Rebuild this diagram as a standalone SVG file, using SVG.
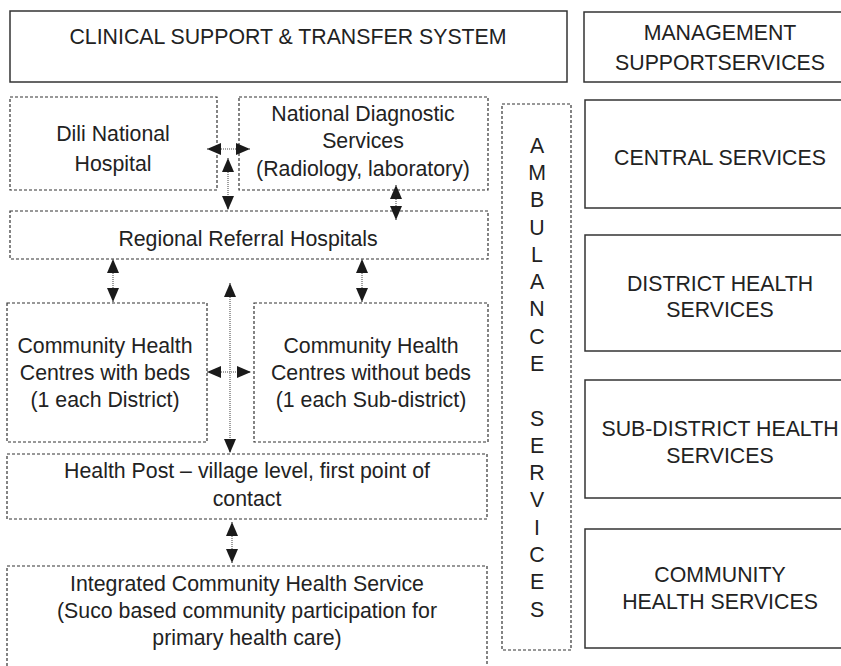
<svg xmlns="http://www.w3.org/2000/svg" width="841" height="666" viewBox="0 0 841 666">
<defs>
<style>
text{font-family:"Liberation Sans",Arial,sans-serif;font-size:21.3px;fill:#222;text-anchor:middle}
.solid{fill:#fff;stroke:#333;stroke-width:1.5}
.dash{fill:none;stroke:#333;stroke-width:1.2;stroke-dasharray:3 2}
.link{stroke:#888;stroke-width:1.6;stroke-dasharray:1 1;fill:none;marker-start:url(#ah);marker-end:url(#ah)}
</style>
<marker id="ah" viewBox="0 0 14 12" refX="14" refY="6" markerWidth="14" markerHeight="12" markerUnits="userSpaceOnUse" orient="auto-start-reverse"><path d="M0,0 L14,6 L0,12 z" fill="#1a1a1a"/></marker>
</defs>
<rect width="841" height="666" fill="#fff"/>
<g id="clinical"><rect class="solid" x="10" y="11" width="557" height="71"/><text x="288" y="44">CLINICAL SUPPORT &amp; TRANSFER SYSTEM</text></g>
<g id="management"><rect class="solid" x="584" y="12" width="272" height="70"/><text x="720" y="39.5">MANAGEMENT</text><text x="720" y="69.5">SUPPORTSERVICES</text></g>
<g id="dili"><rect class="dash" x="10" y="97" width="207" height="93"/><text x="113" y="140.5">Dili National</text><text x="113" y="170.5">Hospital</text></g>
<g id="diagnostic"><rect class="dash" x="239" y="97" width="249" height="93"/><text x="363" y="120.5">National Diagnostic</text><text x="363" y="147.5">Services</text><text x="363" y="175.5">(Radiology, laboratory)</text></g>
<g id="regional"><rect class="dash" x="10" y="211" width="478" height="48"/><text x="248" y="245.5">Regional Referral Hospitals</text></g>
<g id="chc-beds"><rect class="dash" x="7" y="303" width="200" height="139"/><text x="105" y="352.5">Community Health</text><text x="105" y="379.5">Centres with beds</text><text x="105" y="406.5">(1 each District)</text></g>
<g id="chc-nobeds"><rect class="dash" x="254" y="303" width="234" height="139"/><text x="371" y="352.5">Community Health</text><text x="371" y="379.5">Centres without beds</text><text x="371" y="406.5">(1 each Sub-district)</text></g>
<g id="health-post"><rect class="dash" x="7" y="454" width="480" height="65"/><text x="247" y="477.5">Health Post – village level, first point of</text><text x="247" y="505.5">contact</text></g>
<g id="ichs"><rect class="dash" x="7" y="566" width="480" height="110"/><text x="247" y="590.5">Integrated Community Health Service</text><text x="247" y="617.5">(Suco based community participation for</text><text x="247" y="644.5">primary health care)</text></g>
<g id="ambulance"><rect class="dash" x="502" y="104" width="69" height="546"/>
<text x="537" y="152.6">A<tspan x="537" dy="27.3">M</tspan><tspan x="537" dy="27.3">B</tspan><tspan x="537" dy="27.3">U</tspan><tspan x="537" dy="27.3">L</tspan><tspan x="537" dy="27.3">A</tspan><tspan x="537" dy="27.3">N</tspan><tspan x="537" dy="27.3">C</tspan><tspan x="537" dy="27.3">E</tspan><tspan x="537" dy="54.6">S</tspan><tspan x="537" dy="27.3">E</tspan><tspan x="537" dy="27.3">R</tspan><tspan x="537" dy="27.3">V</tspan><tspan x="537" dy="27.3">I</tspan><tspan x="537" dy="27.3">C</tspan><tspan x="537" dy="27.3">E</tspan><tspan x="537" dy="27.3">S</tspan></text></g>
<g id="central"><rect class="solid" x="585" y="100" width="271" height="108"/><text x="720" y="164.5">CENTRAL SERVICES</text></g>
<g id="district"><rect class="solid" x="585" y="235" width="271" height="116"/><text x="720" y="290.5">DISTRICT HEALTH</text><text x="720" y="317">SERVICES</text></g>
<g id="subdistrict"><rect class="solid" x="585" y="380" width="271" height="118"/><text x="720" y="435.5">SUB-DISTRICT HEALTH</text><text x="720" y="462.5">SERVICES</text></g>
<g id="community"><rect class="solid" x="585" y="529" width="271" height="119"/><text x="720" y="581.5">COMMUNITY</text><text x="720" y="608.5">HEALTH SERVICES</text></g>
<g id="connectors">
<line class="link" x1="207" y1="149" x2="250" y2="149"/>
<line class="link" x1="228" y1="158" x2="228" y2="210"/>
<line class="link" x1="396" y1="185" x2="396" y2="220"/>
<line class="link" x1="113" y1="259" x2="113" y2="302"/>
<line class="link" x1="362" y1="259" x2="362" y2="302"/>
<line class="link" x1="230" y1="283" x2="230" y2="453"/>
<line class="link" x1="207" y1="372" x2="251" y2="372"/>
<line class="link" x1="232" y1="522" x2="232" y2="563"/>
</g>
</svg>
